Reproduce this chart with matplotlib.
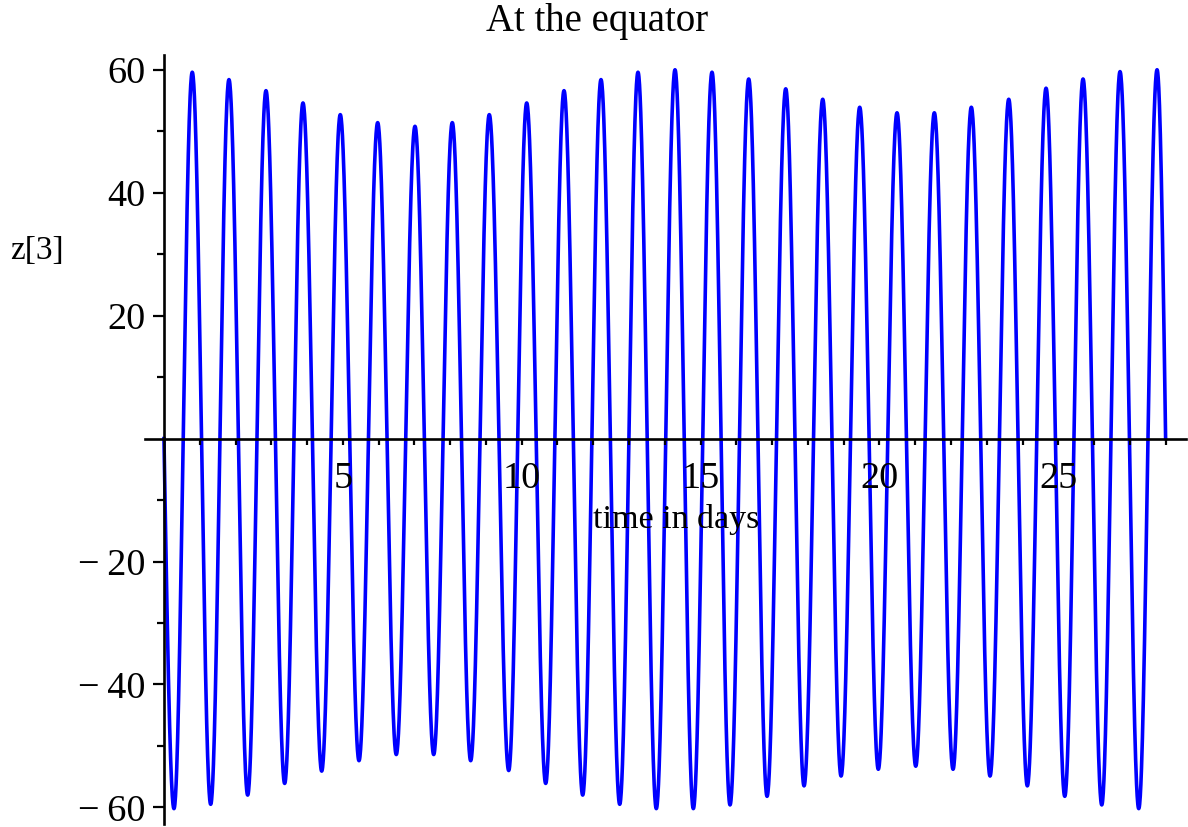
import numpy as np
import matplotlib
matplotlib.use("Agg")
import matplotlib.pyplot as plt
from matplotlib.ticker import FuncFormatter

# ---- data ----
start_day, start_val = 0.0, 0.0
end_day, end_val = 28.0, 0.0

peak_days = [0.791, 1.817, 2.852, 3.886, 4.929, 5.974, 7.017, 8.060, 9.094,
             10.140, 11.183, 12.217, 13.251, 14.286, 15.320, 16.346, 17.381,
             18.415, 19.449, 20.492, 21.535, 22.569, 23.615, 24.658, 25.692,
             26.726, 27.761]
peak_vals = [59.6, 58.4, 56.6, 54.6, 52.7, 51.4, 50.8, 51.4, 52.7,
             54.6, 56.6, 58.4, 59.6, 60.0, 59.6, 58.5, 56.9,
             55.2, 53.9, 53.0, 53.0, 53.9, 55.2, 57.0, 58.5,
             59.7, 60.0]
trough_days = [0.280, 1.306, 2.340, 3.374, 4.409, 5.452, 6.494, 7.540, 8.574,
               9.637, 10.671, 11.705, 12.740, 13.763, 14.798, 15.824, 16.859,
               17.893, 18.928, 19.969, 21.015, 22.058, 23.092, 24.135, 25.181,
               26.215, 27.249]
trough_vals = [-60.2, -59.5, -58.0, -56.1, -54.1, -52.4, -51.4, -51.4, -52.4,
               -54.0, -56.1, -58.0, -59.5, -60.2, -60.2, -59.6, -58.2,
               -56.5, -54.9, -53.8, -53.3, -53.8, -54.9, -56.5, -58.2,
               -59.6, -60.2]

x_major = [5, 10, 15, 20, 25]
x_minor = [d for d in range(1, 29) if d % 5 != 0]
y_major = [-60, -40, -20, 20, 40, 60]
y_minor = [-50, -30, -10, 10, 30, 50]

title = "At the equator"
xlabel = "time in days"
ylabel = "z[3]"

# ---- build the smooth curve through the extrema ----
ext = sorted(zip(peak_days + trough_days, peak_vals + trough_vals))
knots = [(start_day, start_val)] + ext + [(end_day, end_val)]
ts, zs = [], []
n = 60
for i in range(len(knots) - 1):
    t0, v0 = knots[i]
    t1, v1 = knots[i + 1]
    u = np.linspace(0, 1, n, endpoint=False)
    if i == 0:
        v = v0 + (v1 - v0) * np.sin(np.pi / 2 * u)
    elif i == len(knots) - 2:
        v = v1 + (v0 - v1) * np.cos(np.pi / 2 * u)
    else:
        v = v0 + (v1 - v0) * (1 - np.cos(np.pi * u)) / 2
    ts.append(t0 + (t1 - t0) * u)
    zs.append(v)
ts.append([end_day]); zs.append([end_val])
t = np.concatenate(ts)
z = np.concatenate(zs)

# ---- figure ----
W, H = 1188, 827
fig = plt.figure(figsize=(W / 100, H / 100), dpi=100)
serif = ["Liberation Serif", "DejaVu Serif"]
ax_left, ax_right, ax_top, ax_bot = 145, 1186, 55, 824
ax = fig.add_axes([ax_left / W, 1 - ax_bot / H, (ax_right - ax_left) / W, (ax_bot - ax_top) / H])
ax.set_xlim(-0.53, 28.57)
ax.set_ylim(-62.7, 62.4)

ax.plot(t, z, color=(0, 0, 1), lw=2.6, solid_joinstyle="round", zorder=1)

for s in ["top", "right"]:
    ax.spines[s].set_visible(False)
ax.spines["left"].set_position(("data", 0))
ax.spines["bottom"].set_position(("data", 0))
for s in ["left", "bottom"]:
    ax.spines[s].set_linewidth(1.9)
    ax.spines[s].set_zorder(3)

ax.set_xticks(x_major)
ax.set_xticks(x_minor, minor=True)
ax.set_yticks(y_major)
ax.set_yticks(y_minor, minor=True)
ax.yaxis.set_major_formatter(FuncFormatter(
    lambda v, p: ("\u2212\u2009%d" % abs(v)) if v < 0 else "%d" % v))
ax.tick_params(axis="x", which="both", direction="out", length=4.3, width=1.6, pad=12.5,
               labelsize=27.5)
ax.tick_params(axis="y", which="major", direction="out", length=8, width=1.6, pad=5,
               labelsize=27.5)
ax.tick_params(axis="y", which="minor", direction="out", length=5, width=1.6)
for lab in ax.get_xticklabels() + ax.get_yticklabels():
    lab.set_fontfamily(serif)
ax.set_facecolor("none")

fig.text(597 / W, 1 - 31.5 / H, title, ha="center", va="baseline", fontsize=28,
         family=serif)
fig.text(676 / W, 1 - 528 / H, xlabel, ha="center", va="baseline", fontsize=24.5,
         family=serif)
fig.text(37 / W, 1 - 259 / H, ylabel, ha="center", va="baseline", fontsize=24,
         family=serif)

fig.savefig("out.png", dpi=100)
